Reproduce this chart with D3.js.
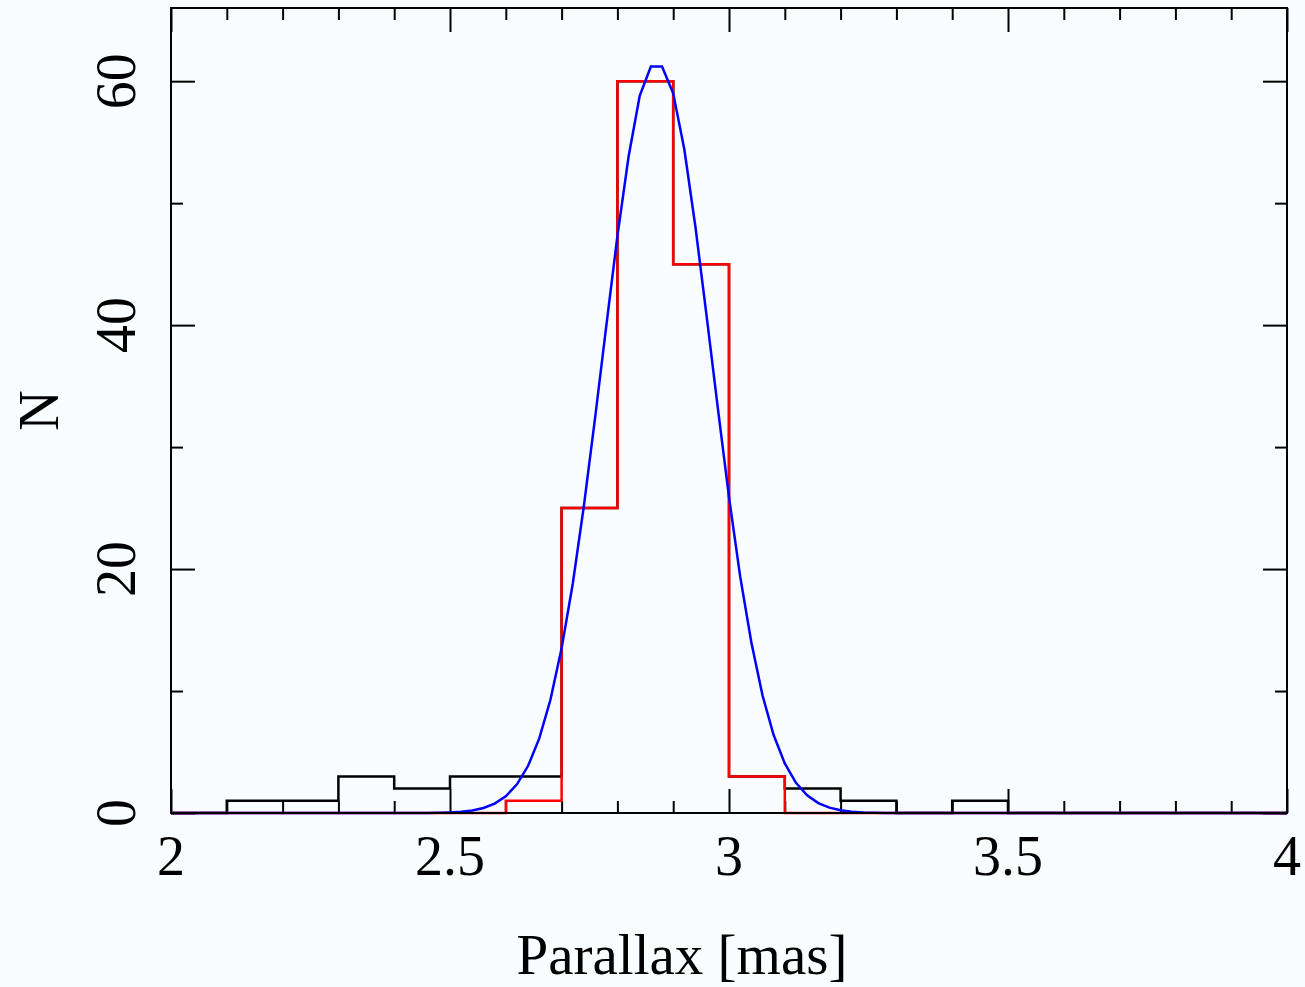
<!DOCTYPE html>
<html>
<head>
<meta charset="utf-8">
<script src="https://cdn.jsdelivr.net/npm/d3@7"></script>
<style>
  body { margin: 0; background: #fafdff; }
  svg text { font-family: "Liberation Serif", "Times New Roman", serif; fill: #000; }
</style>
</head>
<body>
<div id="chart"></div>
<script>
// bin left edges (width 0.1 mas)
var binEdges = [2.0, 2.1, 2.2, 2.3, 2.4, 2.5, 2.6, 2.7, 2.8, 2.9,
                3.0, 3.1, 3.2, 3.3, 3.4, 3.5, 3.6, 3.7, 3.8, 3.9];
var binEnd = 4.0;
// all stars (black)
var allCounts = [0, 1, 1, 3, 2, 3, 3, 25, 60, 45, 3, 2, 1, 0, 1, 0, 0, 0, 0, 0];
// selected members (red)
var memberCounts = [0, 0, 0, 0, 0, 0, 1, 25, 60, 45, 3, 0, 0, 0, 0, 0, 0, 0, 0, 0];

// fitted curve (blue)
var fitX = [2.00, 2.40, 2.42, 2.44, 2.46, 2.48, 2.50, 2.52, 2.54, 2.56, 2.58,
            2.60, 2.62, 2.64, 2.66, 2.68, 2.70, 2.72, 2.74, 2.76, 2.78,
            2.80, 2.82, 2.84, 2.86, 2.88, 2.90, 2.92, 2.94, 2.96, 2.98,
            3.00, 3.02, 3.04, 3.06, 3.08, 3.10, 3.12, 3.14, 3.16, 3.18,
            3.20, 3.22, 3.24, 3.26, 3.28, 3.30, 4.00];
var fitY = [0, 0, 0, 0, 0.01, 0.02, 0.05, 0.10, 0.21, 0.41, 0.77,
            1.37, 2.35, 3.87, 6.12, 9.28, 13.5, 18.8, 25.2, 32.4, 39.9,
            47.3, 53.8, 58.8, 61.2, 61.2, 59.0, 54.4, 48.0, 40.7, 33.2,
            25.9, 19.4, 14.0, 9.65, 6.39, 4.06, 2.48, 1.45, 0.81, 0.44,
            0.23, 0.11, 0.05, 0.02, 0.01, 0, 0];

var xMajor = [2, 2.5, 3, 3.5, 4];
var xMinor = [2.1, 2.2, 2.3, 2.4, 2.6, 2.7, 2.8, 2.9, 3.1, 3.2, 3.3, 3.4, 3.6, 3.7, 3.8, 3.9];
var yMajor = [0, 20, 40, 60];
var yMinor = [10, 30, 50];

var W = 1305, H = 987;
var margin = { top: 8, right: 18, bottom: 174, left: 171 };
var width = W - margin.left - margin.right,
    height = H - margin.top - margin.bottom;

var svg = d3.select("#chart").append("svg")
    .attr("width", W)
    .attr("height", H);

svg.append("rect").attr("width", W).attr("height", H).attr("fill", "#fafdff");

var g = svg.append("g")
    .attr("transform", "translate(" + margin.left + "," + margin.top + ")");

var x = d3.scaleLinear().domain([2, 4]).range([0, width]);
var y = d3.scaleLinear().domain([0, 66]).range([height, 0]);

// axes with inward ticks on all four sides
function addAxis(axis, tr) {
    var a = g.append("g").attr("transform", tr).call(axis);
    a.select(".domain").remove();
    a.selectAll("text").remove();
    a.selectAll("line").attr("stroke", "#000").attr("stroke-width", 2);
}
var majorLen = 24, minorLen = 12;
addAxis(d3.axisBottom(x).tickValues(xMajor).tickSize(-majorLen), "translate(0," + height + ")");
addAxis(d3.axisBottom(x).tickValues(xMinor).tickSize(-minorLen), "translate(0," + height + ")");
addAxis(d3.axisTop(x).tickValues(xMajor).tickSize(-majorLen), "translate(0,0)");
addAxis(d3.axisTop(x).tickValues(xMinor).tickSize(-minorLen), "translate(0,0)");
addAxis(d3.axisLeft(y).tickValues(yMajor).tickSize(-majorLen), "translate(0,0)");
addAxis(d3.axisLeft(y).tickValues(yMinor).tickSize(-minorLen), "translate(0,0)");
addAxis(d3.axisRight(y).tickValues(yMajor).tickSize(-majorLen), "translate(" + width + ",0)");
addAxis(d3.axisRight(y).tickValues(yMinor).tickSize(-minorLen), "translate(" + width + ",0)");

// tick labels
g.selectAll(".xlab").data(xMajor).enter().append("text")
    .attr("class", "xlab")
    .attr("x", d => x(d))
    .attr("y", height + 62)
    .attr("text-anchor", "middle")
    .style("font-size", "56px")
    .text(d => d);

g.selectAll(".ylab").data(yMajor).enter().append("text")
    .attr("class", "ylab")
    .attr("transform", d => "translate(-36," + y(d) + ") rotate(-90)")
    .attr("text-anchor", "middle")
    .style("font-size", "56px")
    .text(d => d);

// axis titles
svg.append("text")
    .attr("x", 682)
    .attr("y", 974)
    .attr("text-anchor", "middle")
    .style("font-size", "57px")
    .text("Parallax [mas]");

svg.append("text")
    .attr("transform", "translate(58," + (margin.top + height / 2) + ") rotate(-90)")
    .attr("text-anchor", "middle")
    .style("font-size", "56px")
    .text("N");

// histograms as step lines
function stepData(counts) {
    var pts = binEdges.map((e, i) => [e, counts[i]]);
    pts.push([binEnd, counts[counts.length - 1]]);
    return pts;
}
var step = d3.line()
    .x(d => x(d[0]))
    .y(d => y(d[1]))
    .curve(d3.curveStepAfter);

g.append("path")
    .datum(stepData(allCounts))
    .attr("d", step)
    .attr("fill", "none")
    .attr("stroke", "#000")
    .attr("stroke-width", 2.5);

g.append("path")
    .datum(stepData(memberCounts))
    .attr("d", step)
    .attr("fill", "none")
    .attr("stroke", "#ff0000")
    .attr("stroke-width", 2.5);

var fitLine = d3.line()
    .x((d, i) => x(fitX[i]))
    .y(d => y(d));

g.append("path")
    .datum(fitY)
    .attr("d", fitLine)
    .attr("fill", "none")
    .attr("stroke", "#0000ff")
    .attr("stroke-width", 2.5);

// frame
g.append("rect")
    .attr("width", width)
    .attr("height", height)
    .attr("fill", "none")
    .attr("stroke", "#000")
    .attr("stroke-width", 2);
</script>
</body>
</html>
